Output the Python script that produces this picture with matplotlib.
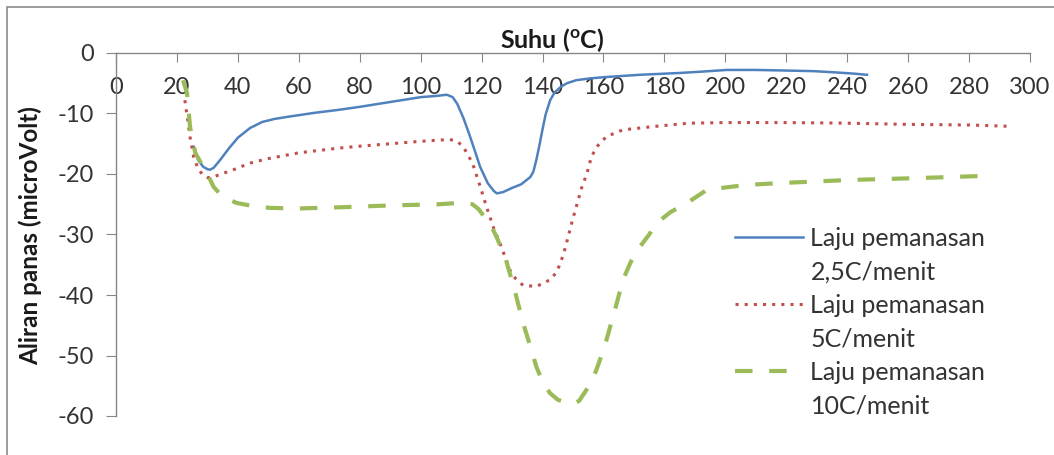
import numpy as np
import matplotlib
matplotlib.use("Agg")
import matplotlib.pyplot as plt
from matplotlib.patches import Rectangle
from matplotlib.lines import Line2D

plt.rcParams['font.family'] = ['Lato', 'DejaVu Sans']
plt.rcParams['mathtext.fontset'] = 'custom'
plt.rcParams['mathtext.rm'] = 'Lato'
plt.rcParams['mathtext.bf'] = 'Lato:bold'
plt.rcParams['axes.unicode_minus'] = False

# data: suhu (C) vs aliran panas (microVolt)
suhu_25 = [25.5, 27, 28.6, 30, 30.8, 32, 34, 37, 40, 44, 48, 52, 57, 65, 73, 80, 90,
           100, 105, 108.6, 110.5, 112, 114, 116, 118, 119.5, 122, 124, 125, 127,
           130, 133, 136, 137, 138, 139, 140, 141, 142.5, 144, 146, 148, 151, 155.6,
           160, 172, 185, 191.7, 200.5, 210, 220, 229, 236, 242, 246.5]
aliran_25 = [-15.5, -17.7, -18.8, -19.2, -19.3, -19.0, -17.8, -15.8, -14.0, -12.4, -11.4,
             -10.9, -10.5, -9.9, -9.4, -8.9, -8.1, -7.3, -7.1, -6.9, -7.3, -8.4, -10.7,
             -13.5, -16.5, -18.8, -21.5, -22.8, -23.2, -23.0, -22.3, -21.7, -20.5, -19.6,
             -17.6, -15.2, -12.6, -10.2, -7.8, -6.5, -5.6, -5.0, -4.5, -4.2, -4.0, -3.6,
             -3.3, -3.1, -2.8, -2.8, -2.9, -3.0, -3.2, -3.4, -3.6]

suhu_5 = [22.6, 23.5, 24.3, 25.5, 27, 28.6, 30, 31.9, 34, 38.5, 44, 49.5, 60, 73.5,
          80, 90, 100, 106, 109.6, 112, 114, 117, 119.5, 121.6, 124, 126, 129.3, 131,
          133.6, 138, 142.4, 144.7, 146.8, 148.4, 150, 151.6, 153, 154.6, 156, 157.8,
          161, 166.4, 177.5, 188, 200, 220, 240, 260, 280, 292.3]
aliran_5 = [-7.8, -11.0, -13.9, -17.2, -19.2, -20.2, -20.6, -20.5, -20.1, -19.3, -18.2,
            -17.5, -16.5, -15.7, -15.4, -15.0, -14.6, -14.4, -14.3, -14.6, -15.5, -18.2,
            -22.0, -25.4, -29.0, -31.4, -35.9, -37.2, -38.4, -38.6, -37.5, -36.2, -33.4,
            -30.4, -27.3, -24.5, -22.0, -19.9, -17.2, -15.5, -13.8, -12.7, -12.1, -11.6,
            -11.5, -11.5, -11.6, -11.8, -11.9, -12.1]

suhu_10 = [22, 23.3, 24.3, 26, 28.6, 30.5, 32, 35, 39.7, 45, 50.5, 60, 73.5, 90, 106,
           112, 115, 117, 119, 120.5, 122.7, 125, 128, 131, 133.6, 136, 138, 140,
           142.4, 145, 148, 150, 152, 154, 156.5, 159, 161, 164, 166.4, 169, 172, 175,
           177.5, 182, 187.4, 194, 207, 218, 240, 261.6, 285.8]
aliran_10 = [-4.5, -6.6, -12.2, -16.5, -18.8, -20.5, -22.1, -23.8, -24.8, -25.3, -25.6,
             -25.7, -25.5, -25.2, -25.0, -24.8, -24.8, -25.0, -25.8, -26.8, -28.1, -30.5,
             -34.2, -39.5, -44.6, -48.5, -51.9, -54.3, -56.2, -57.3, -57.9, -58.0, -57.5,
             -56.0, -54.0, -50.5, -47.4, -42.0, -37.5, -34.5, -32.0, -30.0, -28.1, -26.3,
             -24.8, -22.6, -21.8, -21.5, -21.0, -20.7, -20.3]

x_ticks = np.arange(0, 301, 20)
y_ticks = np.arange(-60, 1, 10)

label_atas = 'Laju pemanasan'
label_laju = ['2,5C/menit', '5C/menit', '10C/menit']

fig = plt.figure(figsize=(10.54, 4.55), dpi=100)
ax = fig.add_axes([116/1054, 1 - 416/455, (1030 - 116)/1054, (416 - 53)/455])

l1, = ax.plot(suhu_25, aliran_25, color='#4F81BD', lw=1.8)
l2, = ax.plot(suhu_5, aliran_5, color='#C0504D', lw=2.2, linestyle=(0, (1, 2)))
l3, = ax.plot(suhu_10, aliran_10, color='#9BBB59', lw=3, linestyle=(0, (4.2, 4)))

ax.set_xlim(0, 300)
ax.set_ylim(-60, 0)
ax.set_xticks(x_ticks)
ax.set_yticks(y_ticks)

# sumbu x di y=0 (atas), label di bawah garis
ax.spines['bottom'].set_position(('data', 0))
ax.spines['top'].set_visible(False)
ax.spines['right'].set_visible(False)
for s in ['bottom', 'left']:
    ax.spines[s].set_color('#868686')
    ax.spines[s].set_linewidth(1)

ax.tick_params(axis='x', direction='out', length=6.5, color='#868686', pad=11,
               labelsize=17, labelcolor='#333333')
ax.tick_params(axis='y', direction='out', length=7, color='#868686', pad=9,
               labelsize=17, labelcolor='#333333')

fig.text(552/1054, 1 - 40/455, 'Suhu ($\\mathbf{^{o}}$C)', fontsize=18, fontweight='bold',
         ha='center', va='center', color='#1a1a1a')
fig.text(30/1054, 1 - 236/455, 'Aliran panas (microVolt)', fontsize=17.5, fontweight='bold',
         rotation=90, ha='center', va='center', color='#1a1a1a')

# legenda: handle sejajar baris pertama tiap entri
kosong = Line2D([], [], lw=0)
handles = [l1, kosong, l2, kosong, l3, kosong]
teks = []
for lj in label_laju:
    teks += [label_atas, lj]
leg = ax.legend(handles, teks, loc='upper left', bbox_to_anchor=(735/1054, 1 - 227/455),
                bbox_transform=fig.transFigure, frameon=False, fontsize=18,
                handlelength=2.72, handletextpad=0.3, borderpad=0, borderaxespad=0,
                labelspacing=0.42)
for t in leg.get_texts():
    t.set_color('#333333')

# rand grafik
fig.add_artist(Rectangle((7/1054, -0.05), 1.0, 1 - 7/455 + 0.05, transform=fig.transFigure,
                         fill=False, edgecolor='#8c8c8c', lw=1.2))

fig.savefig('out.png', dpi=100)
